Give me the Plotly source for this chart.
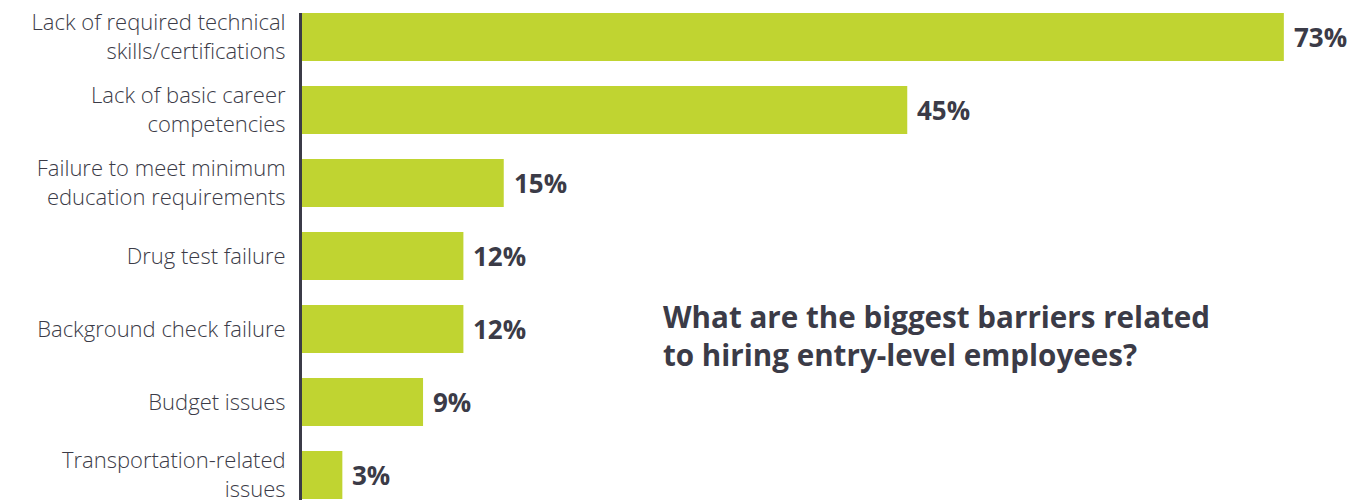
import plotly.graph_objects as go

categories = [
    "Lack of required technical<br>skills/certifications",
    "Lack of basic career<br>competencies",
    "Failure to meet minimum<br>education requirements",
    "Drug test failure",
    "Background check failure",
    "Budget issues",
    "Transportation-related<br>issues",
]
values = [73, 45, 15, 12, 12, 9, 3]
value_labels = [f"{v}%" for v in values]
title_text = "What are the biggest barriers related<br>to hiring entry-level employees?"

BAR = "#c0d431"
INK = "#3b3b47"
positions = list(range(len(categories)))

fig = go.Figure()
fig.add_trace(go.Bar(
    x=values, y=positions, orientation="h",
    marker=dict(color=BAR, line=dict(width=0)),
    width=0.66, hoverinfo="skip",
))

for p, v, lab in zip(positions, values, value_labels):
    fig.add_annotation(x=v, y=p, text=f"<b>{lab}</b>", showarrow=False,
                       xanchor="left", yanchor="middle", xshift=8,
                       font=dict(family="Open Sans", size=26, color=INK))

fig.add_annotation(xref="paper", yref="paper", x=0.336, y=0.349,
                   xanchor="left", yanchor="middle", align="left",
                   text=f"<b>{title_text}</b>", showarrow=False,
                   font=dict(family="Open Sans", size=29.6, color=INK))

fig.update_layout(
    width=1362, height=500,
    margin=dict(l=294, r=0, t=5, b=0),
    paper_bgcolor="white", plot_bgcolor="white",
    showlegend=False,
    xaxis=dict(range=[0, 1068 / 13.45], visible=False, fixedrange=True),
    yaxis=dict(range=[6.452, -0.329], tickvals=positions, ticktext=categories,
               showline=True, linecolor=INK, linewidth=3, showgrid=False,
               zeroline=False, ticks="", ticklabelstandoff=9,
               automargin=False, ticklabeloverflow="allow",
               tickfont=dict(family="Open Sans", size=22, color=INK, weight=300)),
)

fig.write_html("out.html")
